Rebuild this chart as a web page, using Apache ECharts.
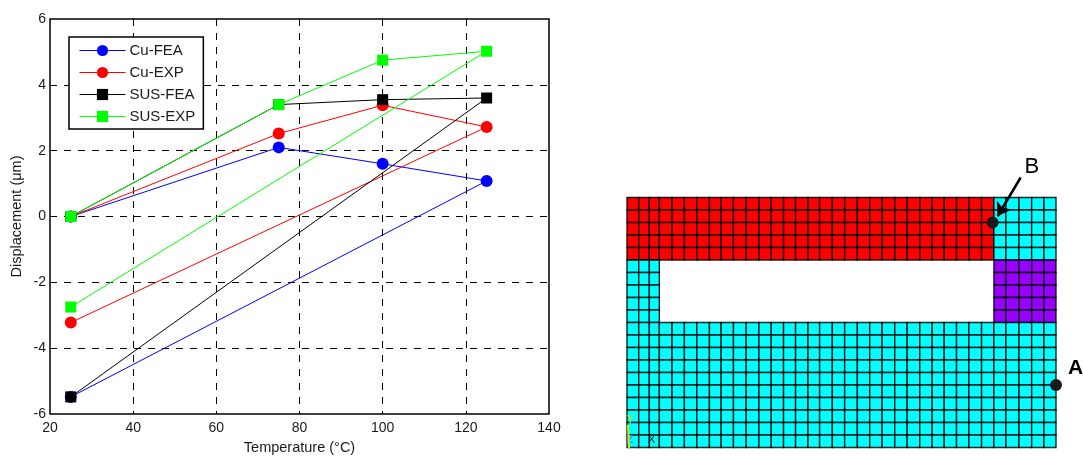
<!DOCTYPE html>
<html><head><meta charset="utf-8">
<style>html,body{margin:0;padding:0;background:#fff}#c{width:1083px;height:456px}</style>
<script src="https://cdn.jsdelivr.net/npm/echarts@6/dist/echarts.min.js"></script>
</head><body><div id="c"></div>
<script>
const temperature = [25, 75, 100, 125, 25];
const cuFea  = [0, 2.1, 1.6, 1.08, -5.48];
const cuExp  = [0, 2.52, 3.38, 2.72, -3.22];
const susFea = [0, 3.4, 3.55, 3.6, -5.48];
const susExp = [0, 3.4, 4.75, 5.02, -2.75];
const seriesNames = ['Cu-FEA', 'Cu-EXP', 'SUS-FEA', 'SUS-EXP'];
// mesh rows, top to bottom: R red, C cyan, P purple, . empty
const meshRows = [
  'RRRRRRRRRRRRRRRRRRRRRRRRRRRRRRCCCCC','RRRRRRRRRRRRRRRRRRRRRRRRRRRRRRCCCCC',
  'RRRRRRRRRRRRRRRRRRRRRRRRRRRRRRCCCCC','RRRRRRRRRRRRRRRRRRRRRRRRRRRRRRCCCCC',
  'RRRRRRRRRRRRRRRRRRRRRRRRRRRRRRCCCCC',
  'CCC...........................PPPPP','CCC...........................PPPPP',
  'CCC...........................PPPPP','CCC...........................PPPPP',
  'CCC...........................PPPPP',
  'CCCCCCCCCCCCCCCCCCCCCCCCCCCCCCCCCCC','CCCCCCCCCCCCCCCCCCCCCCCCCCCCCCCCCCC',
  'CCCCCCCCCCCCCCCCCCCCCCCCCCCCCCCCCCC','CCCCCCCCCCCCCCCCCCCCCCCCCCCCCCCCCCC',
  'CCCCCCCCCCCCCCCCCCCCCCCCCCCCCCCCCCC','CCCCCCCCCCCCCCCCCCCCCCCCCCCCCCCCCCC',
  'CCCCCCCCCCCCCCCCCCCCCCCCCCCCCCCCCCC','CCCCCCCCCCCCCCCCCCCCCCCCCCCCCCCCCCC',
  'CCCCCCCCCCCCCCCCCCCCCCCCCCCCCCCCCCC','CCCCCCCCCCCCCCCCCCCCCCCCCCCCCCCCCCC'
];
const meshColumnEdges = [0, 11.7, 22.3, 32.3, 45, 57.3, 69.7, 82.3, 94, 106.3, 119, 131.7, 144, 156.3,
  168.3, 180.7, 192.3, 205, 217.3, 230, 242.3, 254.7, 267.3, 279.7, 292.3, 304.7, 316.7, 329, 341.3,
  354, 366.3, 378.3, 391.3, 404, 416.3, 428.3];
const meshColors = { R: '#ff0000', C: '#00ffff', P: '#9900ff' };
const pointA = [428.3, 5];
const pointB = [365, 18];
const arrowFrom = [393, 21.6];
const arrowTo = [370, 18.5];

const font = 'Liberation Sans';
const pair = a => a.map((v, i) => [temperature[i], v]);
const meshCells = [];
meshRows.forEach((row, r) => [...row].forEach((k, col) => {
  if (meshColors[k]) meshCells.push([col, meshRows.length - 1 - r, k]);
}));
const lineSeries = (name, vals, color, symbol, size) => ({
  name, type: 'line', data: pair(vals), symbol, symbolSize: size, showSymbol: true,
  lineStyle: { color, width: 1 }, itemStyle: { color }, xAxisIndex: 0, yAxisIndex: 0, animation: false
});

const chart = echarts.init(document.getElementById('c'), null, { renderer: 'canvas' });
chart.setOption({
  animation: false,
  backgroundColor: '#fff',
  textStyle: { fontFamily: font },
  grid: [
    { left: 50, top: 19, width: 499, height: 395, show: true, borderColor: '#000', borderWidth: 1.5, backgroundColor: '#fff', outerBoundsMode: 'none' },
    { left: 627, top: 147.5, width: 429, height: 300, show: false, outerBoundsMode: 'none' }
  ],
  xAxis: [
    { type: 'value', gridIndex: 0, min: 20, max: 140, interval: 20,
      axisLine: { show: false }, axisTick: { show: false },
      axisLabel: { color: '#1a1a1a', fontSize: 14, margin: 7, fontFamily: font },
      splitLine: { show: true, showMinLine: false, showMaxLine: false, lineStyle: { color: '#000', width: 1, type: [7, 7] } },
      name: 'Temperature (\u00b0C)', nameLocation: 'middle', nameGap: 26,
      nameTextStyle: { color: '#1a1a1a', fontSize: 14.5, fontFamily: font } },
    { type: 'value', gridIndex: 1, min: 0, max: 428.3, show: false }
  ],
  yAxis: [
    { type: 'value', gridIndex: 0, min: -6, max: 6, interval: 2,
      axisLine: { show: false }, axisTick: { show: false },
      axisLabel: { color: '#1a1a1a', fontSize: 14, margin: 4, fontFamily: font },
      splitLine: { show: true, showMinLine: false, showMaxLine: false, lineStyle: { color: '#000', width: 1, type: [7, 7] } },
      name: 'Displacement (\u03bcm)', nameLocation: 'middle', nameGap: 26,
      nameTextStyle: { color: '#1a1a1a', fontSize: 14.5, fontFamily: font } },
    { type: 'value', gridIndex: 1, min: 0, max: 24, show: false }
  ],
  legend: {
    data: seriesNames, orient: 'vertical', left: 69, top: 37,
    backgroundColor: '#fff', borderColor: '#000', borderWidth: 1.5, borderRadius: 0,
    padding: [6, 8, 5, 10], itemWidth: 46, itemHeight: 14, itemGap: 7,
    lineStyle: { width: 1 },
    textStyle: { color: '#1a1a1a', fontSize: 15, fontFamily: font, padding: [0, 0, 0, -1] }
  },
  series: [
    lineSeries(seriesNames[0], cuFea, '#0000ff', 'circle', 12),
    lineSeries(seriesNames[1], cuExp, '#ff0000', 'circle', 12),
    lineSeries(seriesNames[2], susFea, '#000000', 'rect', 11),
    lineSeries(seriesNames[3], susExp, '#00ff00', 'rect', 11),
    { type: 'custom', xAxisIndex: 1, yAxisIndex: 1, silent: true, data: meshCells,
      encode: { x: 0, y: 1 },
      renderItem(params, api) {
        const col = api.value(0);
        const p0 = api.coord([meshColumnEdges[col], api.value(1) + 1]);
        const p1 = api.coord([meshColumnEdges[col + 1], api.value(1)]);
        return { type: 'rect',
          shape: { x: p0[0], y: p0[1], width: p1[0] - p0[0], height: p1[1] - p0[1] },
          style: { fill: meshColors[meshRows[meshRows.length - 1 - api.value(1)][col]], stroke: 'rgba(0,0,0,0.85)', lineWidth: 1.4 } };
      } },
    { type: 'scatter', xAxisIndex: 1, yAxisIndex: 1, symbolSize: 12, z: 5, silent: true,
      itemStyle: { color: '#1a1a1a', opacity: 1 },
      data: [
        { value: pointA, label: { show: true, formatter: 'A', position: [18, -21], fontSize: 21, fontWeight: 'bold', color: '#000', fontFamily: font } },
        { value: pointB, label: { show: true, formatter: 'B', position: [38, -61], fontSize: 22, color: '#000', fontFamily: font } }
      ],
      markLine: { silent: true, animation: false, symbol: ['none', 'arrow'], symbolSize: 13,
        lineStyle: { color: '#000', width: 2.5, type: 'solid' }, label: { show: false },
        data: [[{ coord: arrowFrom }, { coord: arrowTo }]] } }
  ],
  graphic: [
    { type: 'text', left: 648, top: 434, z: 10, style: { text: 'X', fill: '#123', font: '11px Liberation Sans' } },
    { type: 'text', left: 627, top: 415, z: 10, style: { text: 'Y', fill: '#a6e22e', font: 'bold 10px Liberation Sans' } },
    { type: 'text', left: 627, top: 435, z: 10, style: { text: 'Z', fill: '#3a8fff', font: 'bold 10px Liberation Sans' } },
    { type: 'line', z: 10, shape: { x1: 628, y1: 425, x2: 629, y2: 448 }, style: { stroke: '#c8f000', lineWidth: 2 } }
  ]
});
</script></body></html>
